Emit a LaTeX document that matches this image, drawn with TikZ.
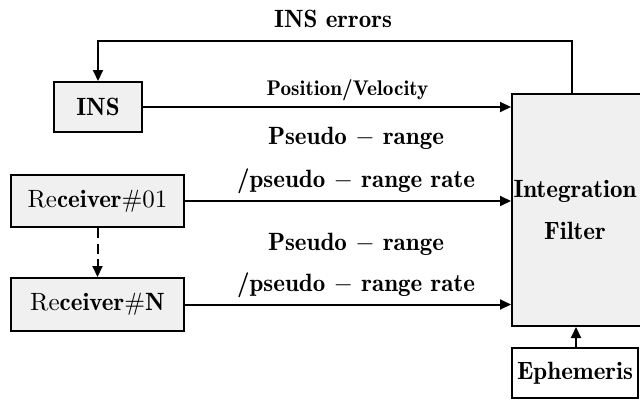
\documentclass[tikz,border=0pt]{standalone}
\usetikzlibrary{arrows.meta}
\definecolor{boxgray}{RGB}{240,240,240}
% bold, non-extended weight for the labels
\newcommand{\bn}{\fontseries{b}\selectfont}
\begin{document}
\begin{tikzpicture}[x=0.4pt,y=-0.4pt,
  line width=0.8pt,
  >={Triangle[length=4.4pt,width=4pt]},
  block/.style={draw,fill=boxgray,inner sep=0pt},
  lbl/.style={inner sep=0pt,font=\bn}]
\useasboundingbox (0,0) rectangle (640,400);
% boxes
\node[block,minimum width=35.2pt,minimum height=20pt,font=\bn] (ins) at (98,107) {INS};
\node[block,minimum width=69.2pt,minimum height=20.8pt] (rx1) at (97.5,201) {Re{\bn ceiver}$\#01$};
\node[block,minimum width=69.2pt,minimum height=21.2pt] (rxn) at (97.5,304.5) {Re{\bn ceiver}$\#${\bn N}};
\node[block,minimum width=59.2pt,minimum height=92.8pt] (filt) at (586,210) {};
\node[lbl,align=center] (filttxt) at (575,210) {Integration\\[5pt]Filter};
\node[draw,fill=white,inner sep=0pt,minimum width=50.4pt,minimum height=20pt,font=\bn] (eph) at (575,373) {Ephemeris};
% feedback path
\coordinate (fb) at (572,41);
\draw[->] (fb |- filt.north) -- (fb) -- (fb -| ins) -- (ins);
\node[lbl] (errs) at (333,19) {INS errors};
% forward paths
\draw[->] (ins) -- (ins -| filt.west);
\node[lbl,font=\fontsize{8.5}{10}\bn] (pv) at (347.5,90) {Position/Velocity};
\draw[->] (rx1) -- (rx1 -| filt.west);
\node[lbl] (pr1a) at (356,138) {Pseudo $-$ range};
\node[lbl] (pr1b) at (356,181) {/pseudo $-$ range rate};
\draw[->] (rxn) -- (rxn -| filt.west);
\node[lbl] (prna) at (356,244) {Pseudo $-$ range};
\node[lbl] (prnb) at (356,285) {/pseudo $-$ range rate};
\draw[->,dashed,dash pattern=on 4pt off 2.2pt] (rx1) -- (rxn);
\draw[->] (eph.north -| 576,0) -- (filt.south -| 576,0);
\end{tikzpicture}
\end{document}
